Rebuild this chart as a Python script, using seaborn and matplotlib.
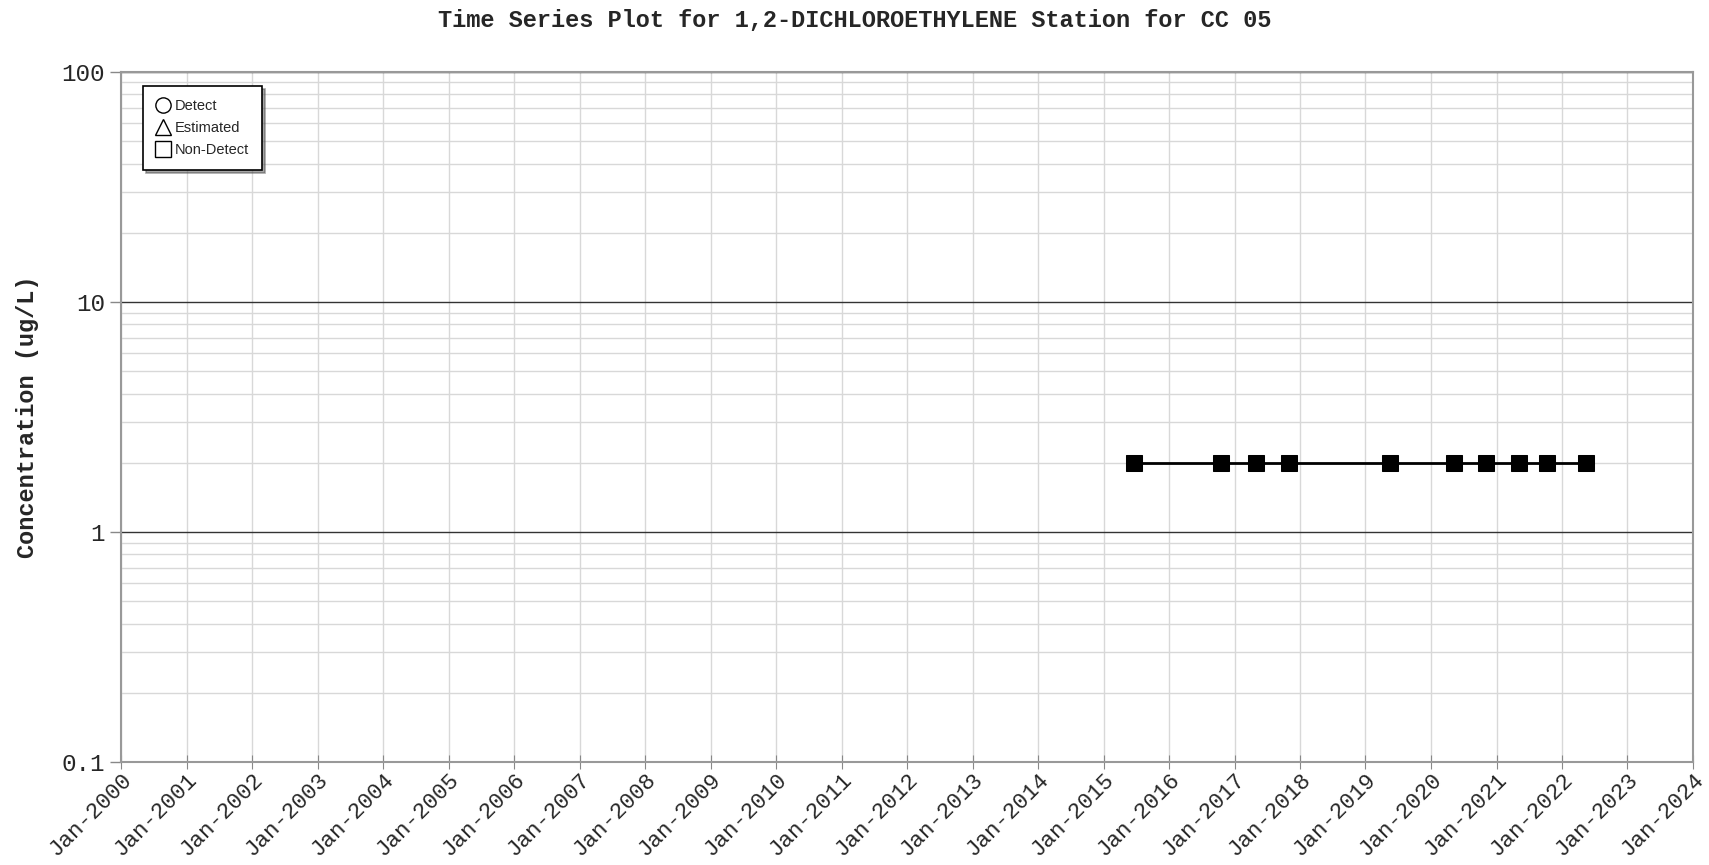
import pandas as pd
import numpy as np
import matplotlib
matplotlib.use('Agg')
import matplotlib.pyplot as plt
from matplotlib.lines import Line2D
from matplotlib.ticker import LogLocator, FixedLocator, NullFormatter
import seaborn as sns

# data (all non-detects at 2 ug/L)
dates = ['2015-06-20', '2016-10-15', '2017-05-01', '2017-11-01', '2019-05-15',
         '2020-05-10', '2020-11-01', '2021-05-08', '2021-10-10', '2022-05-15']
conc = [2, 2, 2, 2, 2, 2, 2, 2, 2, 2]
ytick_vals = [0.1, 1, 10, 100]
ytick_labels = ['0.1', '1', '10', '100']
title = 'Time Series Plot for 1,2-DICHLOROETHYLENE Station for CC 05'
ylabel = 'Concentration (ug/L)'

df = pd.DataFrame({'date': pd.to_datetime(dates), 'conc': conc})

sns.set_style('white')
plt.rcParams['font.family'] = ['Liberation Mono', 'DejaVu Sans Mono']

fig = plt.figure(figsize=(17.09, 8.65), dpi=100)
ax = fig.add_axes([0.0708, 0.119, 0.9198, 0.7978])

sns.lineplot(data=df, x='date', y='conc', ax=ax, color='black', lw=2,
             marker='s', markersize=11, markeredgecolor='black', zorder=5)

ax.set_yscale('log')
ax.set_ylim(0.1, 100)
ax.set_xlim(pd.Timestamp('2000-01-01'), pd.Timestamp('2024-01-01'))

ax.yaxis.set_major_locator(FixedLocator(ytick_vals))
ax.set_yticklabels(ytick_labels)
ax.yaxis.set_minor_locator(LogLocator(base=10, subs=np.arange(2, 10)))
ax.yaxis.set_minor_formatter(NullFormatter())

years = pd.date_range('2000-01-01', '2024-01-01', freq='YS')
ax.set_xticks(years)
ax.set_xticklabels([d.strftime('%b-%Y') for d in years], rotation=45,
                   ha='right', va='top', rotation_mode='anchor', fontsize=16.2)
ax.tick_params(axis='y', labelsize=17.5, length=8, color='#888888', width=1, left=True)
ax.tick_params(axis='y', which='minor', length=0)
ax.tick_params(axis='x', direction='inout', length=10, color='#888888', bottom=True, pad=0)

ax.grid(axis='x', color='#d8d8d8', lw=1)
ax.grid(axis='y', which='minor', color='#d8d8d8', lw=1)
ax.grid(axis='y', which='major', color='#333333', lw=1)
for s in ax.spines.values():
    s.set_color('#999999')
    s.set_linewidth(1.5)

ax.set_xlabel('')
ax.set_ylabel(ylabel, fontsize=17, fontweight='bold', labelpad=16)
fig.suptitle(title, fontsize=17, fontweight='bold', y=0.99)

handles = [
    Line2D([], [], ls='none', marker='o', markerfacecolor='white', markeredgecolor='black', markersize=11),
    Line2D([], [], ls='none', marker='^', markerfacecolor='white', markeredgecolor='black', markersize=11),
    Line2D([], [], ls='none', marker='s', markerfacecolor='white', markeredgecolor='black', markersize=11),
]
leg = ax.legend(handles, ['Detect', 'Estimated', 'Non-Detect'], loc='upper left',
                bbox_to_anchor=(0.0112, 0.986), frameon=True, fancybox=False,
                shadow=True, handlelength=1.0, handletextpad=0.3, labelspacing=0.55,
                borderpad=0.9, borderaxespad=0.3,
                prop={'family': 'Liberation Sans', 'size': 10.5})
leg.get_frame().set_edgecolor('black')
leg.get_frame().set_linewidth(1.2)

fig.savefig('out.png', dpi=100)
